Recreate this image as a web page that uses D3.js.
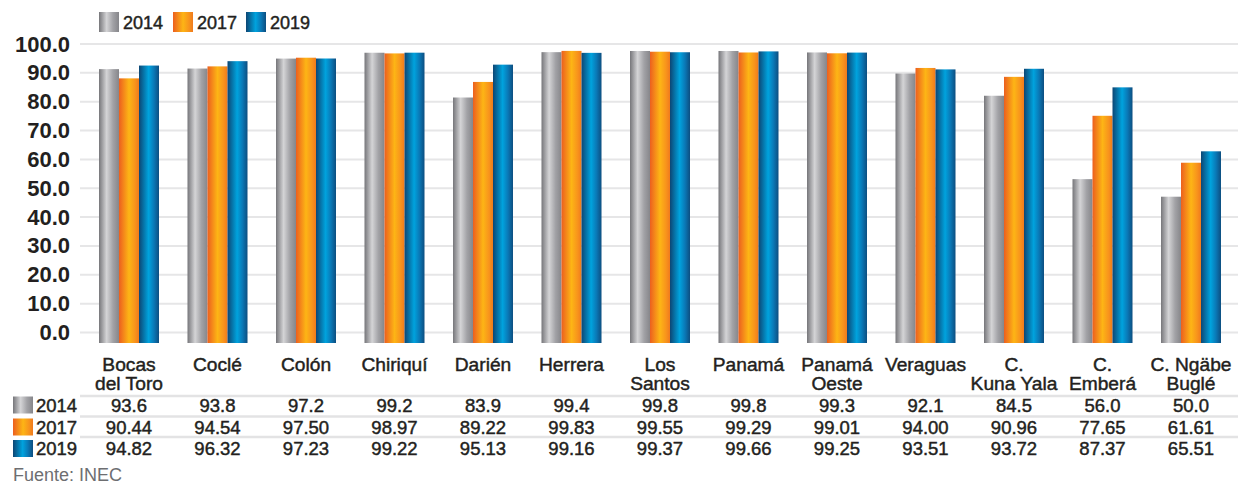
<!DOCTYPE html>
<html>
<head>
<meta charset="utf-8">
<script src="https://cdn.jsdelivr.net/npm/d3@7"></script>
<style>
  html, body { margin: 0; padding: 0; background: #fff; }
  svg { display: block; font-family: "Liberation Sans", Arial, Helvetica, sans-serif; }
  .medium { stroke: #231f20; stroke-width: 0.45px; paint-order: fill; }
</style>
</head>
<body>
<svg id="chart" width="1238" height="484"></svg>
<script>
// Provinces and comarcas (two-line labels split on "|")
const categories = [
  "Bocas|del Toro", "Coclé", "Colón", "Chiriquí", "Darién", "Herrera",
  "Los|Santos", "Panamá", "Panamá|Oeste", "Veraguas", "C.|Kuna Yala",
  "C.|Emberá", "C. Ngäbe|Buglé"
];
const years = ["2014", "2017", "2019"];
const values2014 = [93.6, 93.8, 97.2, 99.2, 83.9, 99.4, 99.8, 99.8, 99.3, 92.1, 84.5, 56.0, 50.0];
const values2017 = [90.44, 94.54, 97.50, 98.97, 89.22, 99.83, 99.55, 99.29, 99.01, 94.00, 90.96, 77.65, 61.61];
const values2019 = [94.82, 96.32, 97.23, 99.22, 95.13, 99.16, 99.37, 99.66, 99.25, 93.51, 93.72, 87.37, 65.51];
const tableLabels2014 = ["93.6", "93.8", "97.2", "99.2", "83.9", "99.4", "99.8", "99.8", "99.3", "92.1", "84.5", "56.0", "50.0"];
const tableLabels2017 = ["90.44", "94.54", "97.50", "98.97", "89.22", "99.83", "99.55", "99.29", "99.01", "94.00", "90.96", "77.65", "61.61"];
const tableLabels2019 = ["94.82", "96.32", "97.23", "99.22", "95.13", "99.16", "99.37", "99.66", "99.25", "93.51", "93.72", "87.37", "65.51"];
const yTicks = [0, 10, 20, 30, 40, 50, 60, 70, 80, 90, 100];

const series = [values2014, values2017, values2019];
const tableRows = [tableLabels2014, tableLabels2017, tableLabels2019];

const svg = d3.select("#chart");
const W = 1238;
const textColor = "#231f20";

// Gradients for the cylinder-like bar fills
const defs = svg.append("defs");
const gradStops = {
  g2014: [[0, "#76767a"], [0.38, "#d4d4d6"], [0.7, "#a2a2a6"], [1, "#86868a"]],
  g2017: [[0, "#ec5f1f"], [0.5, "#fdb515"], [0.8, "#f8941c"], [1, "#f07a1d"]],
  g2019: [[0, "#0d4674"], [0.48, "#00a3de"], [0.75, "#0a78b6"], [1, "#0d4e80"]]
};
Object.entries(gradStops).forEach(([id, stops]) => {
  const g = defs.append("linearGradient").attr("id", id)
    .attr("x1", "0%").attr("x2", "100%").attr("y1", "0%").attr("y2", "0%");
  stops.forEach(([o, c]) => g.append("stop").attr("offset", o).attr("stop-color", c));
});
const fills = years.map(y => `url(#g${y})`);

// Scales
const x0 = d3.scaleBand().domain(d3.range(categories.length))
  .range([84.75, 1235.25]).paddingInner(0.322).paddingOuter(0.161);
const x1 = d3.scaleBand().domain(d3.range(years.length)).range([0, x0.bandwidth()]);
const yAxisScale = d3.scaleLinear().domain([0, 100]).range([332.5, 44]);
const yBar = d3.scaleLinear().domain([0, 100]).range([343, 50.4]);

// Gridlines
svg.append("g").selectAll("line").data(yTicks).join("line")
  .attr("x1", 80).attr("x2", W)
  .attr("y1", d => yAxisScale(d)).attr("y2", d => yAxisScale(d))
  .attr("stroke", "#e6e6e7").attr("stroke-width", 2);

// Y axis labels
const yAxis = d3.axisLeft(yAxisScale).tickValues(yTicks).tickFormat(d3.format(".1f")).tickSize(0).tickPadding(0);
const yg = svg.append("g").attr("transform", "translate(70,0)").call(yAxis);
yg.select(".domain").remove();
yg.selectAll("text")
  .attr("fill", textColor)
  .style("font-size", "22px")
  .style("font-weight", "bold")
  .style("font-family", "'Liberation Sans', Arial, sans-serif");

// Bars
const groups = svg.append("g").selectAll("g").data(categories).join("g")
  .attr("transform", (d, i) => `translate(${x0(i)},0)`);
groups.selectAll("rect")
  .data((d, i) => series.map((s, k) => ({ k, v: s[i] })))
  .join("rect")
  .attr("x", d => x1(d.k))
  .attr("width", x1.bandwidth())
  .attr("y", d => yBar(d.v))
  .attr("height", d => yBar(0) - yBar(d.v))
  .attr("fill", d => fills[d.k]);

// Category labels
const catG = svg.append("g");
categories.forEach((c, i) => {
  const cx = x0(i) + x0.bandwidth() / 2;
  const t = catG.append("text")
    .attr("class", "medium")
    .attr("x", cx).attr("y", 370.5)
    .attr("text-anchor", "middle")
    .attr("fill", textColor)
    .style("font-size", "19.2px");
  c.split("|").forEach((line, j) => {
    t.append("tspan").attr("x", cx).attr("dy", j === 0 ? 0 : 19).text(line);
  });
});

// Data table
const rowLineY = [396, 416.5, 437];
const rowTextY = [411.5, 433.5, 455];
svg.append("g").selectAll("line").data(rowLineY).join("line")
  .attr("x1", 80).attr("x2", W)
  .attr("y1", d => d).attr("y2", d => d)
  .attr("stroke", "#e3e3e4").attr("stroke-width", 2.5);

tableRows.forEach((row, r) => {
  const g = svg.append("g");
  g.append("rect")
    .attr("x", 13).attr("y", rowTextY[r] - 15).attr("width", 20).attr("height", 17)
    .attr("fill", fills[r]);
  g.append("text")
    .attr("class", "medium")
    .attr("x", 36).attr("y", rowTextY[r])
    .attr("fill", textColor)
    .style("font-size", "18.5px")
    .text(years[r]);
  g.selectAll("text.v").data(row).join("text")
    .attr("class", "v medium")
    .attr("x", (d, i) => x0(i) + x0.bandwidth() / 2)
    .attr("y", rowTextY[r])
    .attr("text-anchor", "middle")
    .attr("fill", textColor)
    .style("font-size", "18.5px")
    .text(d => d);
});

// Legend
const legendX = [99, 173, 246];
const legend = svg.append("g");
years.forEach((yr, k) => {
  legend.append("rect")
    .attr("x", legendX[k]).attr("y", 12).attr("width", 20).attr("height", 20)
    .attr("fill", fills[k]);
  legend.append("text")
    .attr("class", "medium")
    .attr("x", legendX[k] + 24).attr("y", 29)
    .attr("fill", textColor)
    .style("font-size", "18px")
    .text(yr);
});

// Source note
svg.append("text")
  .attr("x", 13).attr("y", 481)
  .attr("fill", "#6d6e71")
  .style("font-size", "18px")
  .text("Fuente: INEC");
</script>
</body>
</html>
